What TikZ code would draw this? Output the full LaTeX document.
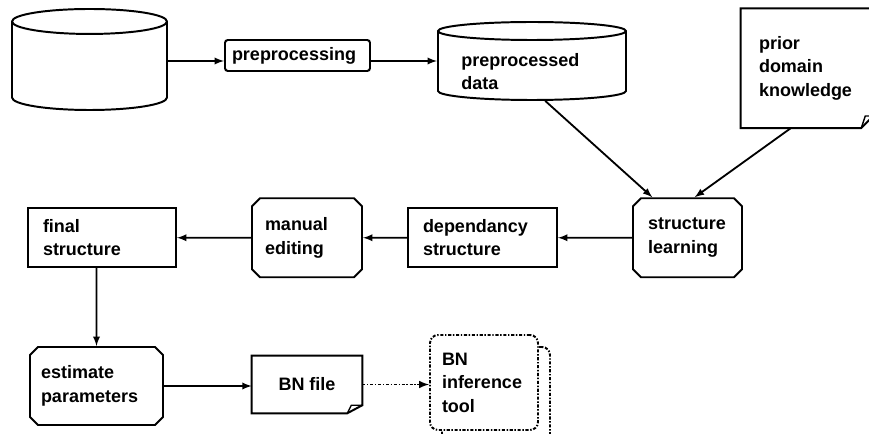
\documentclass[tikz,border=0pt]{standalone}
\usepackage{fontspec}
\setmainfont{Liberation Sans}
\usetikzlibrary{shapes.geometric}
\usetikzlibrary{shapes.misc}
\usetikzlibrary{shadows}
\tikzset{>=latex}
\tikzset{every node/.style={font=\fontsize{12.8}{16.7}\selectfont\bfseries}}
\tikzset{box/.style={draw, line width=1.4pt, inner sep=1pt, align=left}}
\tikzset{chamf/.style={box, chamfered rectangle, chamfered rectangle xsep=0.1cm, chamfered rectangle ysep=0.1cm}}
\tikzset{doc/.style={inner sep=1pt, align=left}}
\tikzset{outline/.style={line width=1.4pt, line join=miter}}
\tikzset{db/.style={draw, line width=1.4pt, inner sep=0.3cm, cylinder, shape border rotate=90, anchor=shape center}}
\tikzset{conn/.style={->, line width=1.3pt}}
\tikzset{dotline/.style={line width=1.4pt, dash pattern=on 2.2pt off 1.2pt on 1pt off 1.2pt}}

\begin{document}
\begin{tikzpicture}
    \useasboundingbox (0, 0) rectangle (21.725, 10.85);
    % data stores and preprocessing
    \node[db, aspect=1.04, minimum width=3.875cm, minimum height=2.525cm] (raw) at (2.2375, 9.3625) {};
    \node[box, rounded corners=2pt, minimum width=3.625cm, minimum height=0.775cm, text width=3.275cm] (prep) at (7.4375, 9.4625) {preprocessing};
    \node[db, aspect=0.75, minimum width=4.7cm, minimum height=1.95cm] (data) at (13.3, 9.325) {};
    \node[align=left, inner sep=0pt, anchor=west] (datatext) at (11.525, 9.0625) {preprocessed\\data};
    \node[doc, minimum width=3.3cm, minimum height=2.975cm, text width=2.4cm] (prior) at (20.175, 9.1438) {prior\\domain\\knowledge};
    % structure
    \node[chamf, minimum width=2.725cm, minimum height=1.975cm, text width=1.975cm] (learn) at (17.1875, 4.9063) {structure\\learning};
    \node[box, minimum width=3.725cm, minimum height=1.475cm, text width=2.975cm] (dep) at (12.0625, 4.9063) {dependancy\\structure};
    \node[chamf, minimum width=2.75cm, minimum height=1.975cm, text width=2.1cm] (manual) at (7.675, 4.9063) {manual\\editing};
    \node[box, minimum width=3.7cm, minimum height=1.475cm, text width=2.95cm] (final) at (2.55, 4.9063) {final\\structure};
    % parameters and output
    \node[chamf, minimum width=3.325cm, minimum height=1.95cm, text width=2.775cm] (estimate) at (2.4125, 1.2) {estimate\\parameters};
    \node[doc, align=center, minimum width=2.75cm, minimum height=1.425cm] (bnfile) at (7.675, 1.2375) {BN file};
    \node[box, dotline, rounded corners=0.2cm, fill=white, copy shadow={shadow xshift=0.3cm, shadow yshift=-0.3cm}, minimum width=2.7cm, minimum height=2.375cm, text width=2.1cm] (infer) at (12.1, 1.2875) {BN\\inference\\tool};
    % note outlines with folded corners
    \coordinate (bnc) at (bnfile.south east);
    \draw[outline] (bnfile.south west) -- (bnfile.north west) -- (bnfile.north east) -- ([yshift=0.2cm]bnc) -- ([xshift=-0.375cm]bnc) -- cycle;
    \draw[line width=1pt] ([xshift=-0.375cm]bnc) -- ([xshift=-0.275cm, yshift=0.2cm]bnc) -- ([yshift=0.2cm]bnc);
    \coordinate (prc) at (prior.south east);
    \draw[outline] (prior.south west) -- (prior.north west) -- (prior.north east) -- ([yshift=0.3cm]prc) -- ([xshift=-0.3cm]prc) -- cycle;
    \draw[line width=1pt] ([xshift=-0.3cm]prc) -- ([xshift=-0.2cm, yshift=0.3cm]prc) -- ([yshift=0.3cm]prc);
    % connectors
    \draw[conn] (data.shape center -| raw.east) -- (data.shape center -| prep.west);
    \draw[conn] (data.shape center -| prep.east) -- (data.shape center -| data.west);
    \draw[conn] (data.292) -- (learn.131);
    \draw[conn] (prior.255) -- (learn.80);
    \draw[conn] (learn) -- (dep);
    \draw[conn] (dep) -- (manual);
    \draw[conn] (manual) -- (final);
    \draw[conn] (estimate.north |- final.south) -- (estimate);
    \draw[conn] (estimate.east) -- (estimate.east -| bnfile.west);
    \draw[conn, dotline] (bnfile.east) -- (bnfile.east -| infer.west);
\end{tikzpicture}
\end{document}
